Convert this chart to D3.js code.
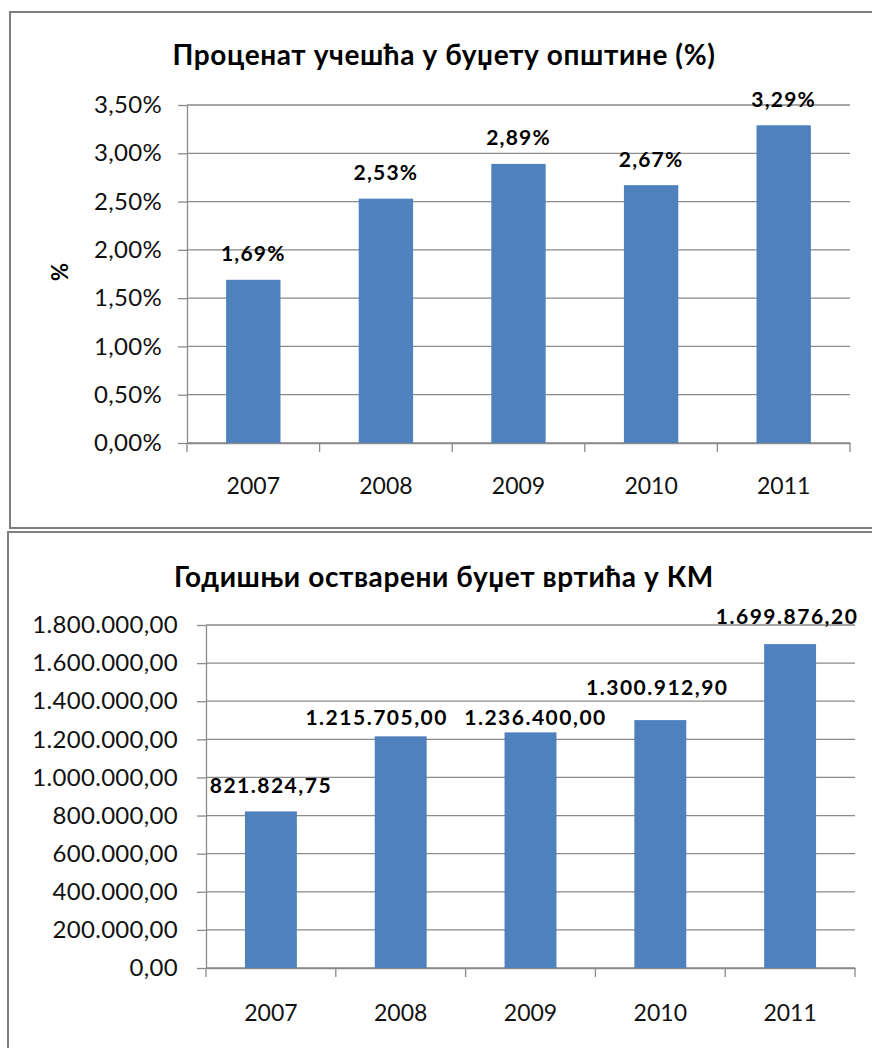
<!DOCTYPE html>
<html>
<head>
<meta charset="utf-8">
<script src="https://cdn.jsdelivr.net/npm/d3@7"></script>
<style>
  body { margin: 0; background: #fff; }
  svg { display: block; }
</style>
</head>
<body>
<svg id="chart"></svg>
<script>
// data
const years = ["2007", "2008", "2009", "2010", "2011"];
const shareValues = [1.69, 2.53, 2.89, 2.67, 3.29];
const shareTicks = [0, 0.5, 1, 1.5, 2, 2.5, 3, 3.5];
const budgetValues = [821824.75, 1215705.00, 1236400.00, 1300912.90, 1699876.20];
const budgetTicks = [0, 200000, 400000, 600000, 800000, 1000000, 1200000, 1400000, 1600000, 1800000];
// labels in the bottom chart were moved by hand in the original
const budgetLabelNudge = [[0, 0], [-24, 7], [5, 11], [-3, -6], [-3, -1]];

let width_page = 872;
let height_page = 1048;
let font_family = "Lato, 'Open Sans', sans-serif";
let bar_color = "#4f81bd";
let grid_color = "#8a8a8a";
let frame_color = "#7f7f7f";
let text_color = "#111";

const locale = d3.formatLocale({ decimal: ",", thousands: ".", grouping: [3], currency: ["", ""] });
const fmtNum = locale.format(",.2f");
const fmtPct = v => fmtNum(v) + "%";

let svg = d3.select("#chart")
    .attr("width", width_page)
    .attr("height", height_page)
    .style("background-color", "white");

function drawChart(opt) {
    let g = svg.append("g");

    // frame around the chart
    g.append("rect")
        .attr("x", opt.frame[0])
        .attr("y", opt.frame[1])
        .attr("width", opt.frame[2])
        .attr("height", opt.frame[3])
        .attr("fill", "white")
        .attr("stroke", frame_color)
        .attr("stroke-width", 2);

    g.append("text")
        .attr("x", opt.titleX)
        .attr("y", opt.titleY)
        .attr("text-anchor", "middle")
        .attr("font-family", font_family)
        .attr("font-size", "28px")
        .attr("font-weight", "bold")
        .attr("letter-spacing", 0.6)
        .attr("fill", "#000")
        .text(opt.title);

    let x = d3.scaleBand()
        .domain(years)
        .range([opt.left, opt.right])
        .paddingInner(opt.pad)
        .paddingOuter(opt.pad / 2);

    let y = d3.scaleLinear()
        .domain([0, opt.max])
        .range([opt.bottom, opt.top]);

    // gridlines
    g.append("g")
        .selectAll("line")
        .data(opt.ticks)
        .join("line")
        .attr("x1", opt.left)
        .attr("x2", opt.right)
        .attr("y1", d => y(d))
        .attr("y2", d => y(d))
        .attr("stroke", grid_color)
        .attr("stroke-width", 1.3);

    // y axis
    let yAxis = g.append("g")
        .attr("transform", "translate(" + opt.left + ",0)")
        .call(d3.axisLeft(y).tickValues(opt.ticks).tickSize(9).tickSizeOuter(0).tickPadding(opt.yLabelPad).tickFormat(opt.fmt));
    yAxis.select(".domain").attr("stroke", grid_color).attr("stroke-width", 1.3);
    yAxis.selectAll(".tick line").attr("stroke", grid_color).attr("stroke-width", 1.3);
    yAxis.selectAll(".tick text")
        .attr("font-family", font_family)
        .attr("font-size", "24px")
        .attr("letter-spacing", 0.3)
        .attr("fill", text_color);

    // x axis: labels at band centres, tick marks between bands
    let xAxis = g.append("g")
        .attr("transform", "translate(0," + opt.bottom + ")")
        .call(d3.axisBottom(x).tickSize(0).tickPadding(opt.xLabelPad));
    xAxis.select(".domain").attr("stroke", grid_color).attr("stroke-width", 1.3);
    xAxis.selectAll(".tick text")
        .attr("font-family", font_family)
        .attr("font-size", "23px")
        .attr("fill", text_color);

    let bounds = d3.range(years.length + 1).map(i => x.range()[0] + i * x.step());
    g.append("g")
        .selectAll("line")
        .data(bounds)
        .join("line")
        .attr("x1", d => d)
        .attr("x2", d => d)
        .attr("y1", opt.bottom)
        .attr("y2", opt.bottom + 9)
        .attr("stroke", grid_color)
        .attr("stroke-width", 1.3);

    // bars
    g.append("g")
        .selectAll("rect")
        .data(opt.values)
        .join("rect")
        .attr("x", (d, i) => x(years[i]))
        .attr("y", d => y(d))
        .attr("width", x.bandwidth())
        .attr("height", d => opt.bottom - y(d))
        .attr("fill", bar_color);

    // value labels
    g.append("g")
        .selectAll("text")
        .data(opt.values)
        .join("text")
        .attr("x", (d, i) => x(years[i]) + x.bandwidth() / 2 + opt.nudge[i][0])
        .attr("y", (d, i) => y(d) - 26 + opt.nudge[i][1])
        .attr("dy", "0.35em")
        .attr("text-anchor", "middle")
        .attr("font-family", font_family)
        .attr("font-size", "21px")
        .attr("font-weight", "bold")
        .attr("letter-spacing", opt.labelSpacing)
        .attr("fill", "#000")
        .text(d => opt.fmt(d));

    if (opt.yTitle) {
        g.append("text")
            .attr("transform", "translate(" + opt.yTitleX + "," + opt.yTitleY + ") rotate(-90)")
            .attr("text-anchor", "middle")
            .attr("dy", "0.35em")
            .attr("font-family", font_family)
            .attr("font-size", "22px")
            .attr("font-weight", "bold")
            .attr("fill", "#000")
            .text(opt.yTitle);
    }
}

drawChart({
    frame: [10, 12, 880, 516],
    title: "Проценат учешћа у буџету општине (%)",
    titleX: 444,
    titleY: 65,
    left: 187,
    right: 850,
    top: 105,
    bottom: 443,
    max: 3.5,
    ticks: shareTicks,
    values: shareValues,
    fmt: fmtPct,
    pad: 0.59,
    yLabelPad: 16,
    xLabelPad: 35,
    nudge: shareValues.map(() => [0, 0]),
    labelSpacing: 1.2,
    yTitle: "%",
    yTitleX: 60,
    yTitleY: 272
});

drawChart({
    frame: [8, 532, 880, 530],
    title: "Годишњи остварени буџет вртића у КМ",
    titleX: 444,
    titleY: 587,
    left: 206,
    right: 855,
    top: 625,
    bottom: 968,
    max: 1800000,
    ticks: budgetTicks,
    values: budgetValues,
    fmt: fmtNum,
    pad: 0.6,
    yLabelPad: 19,
    xLabelPad: 37,
    nudge: budgetLabelNudge,
    labelSpacing: 1.5
});
</script>
</body>
</html>
